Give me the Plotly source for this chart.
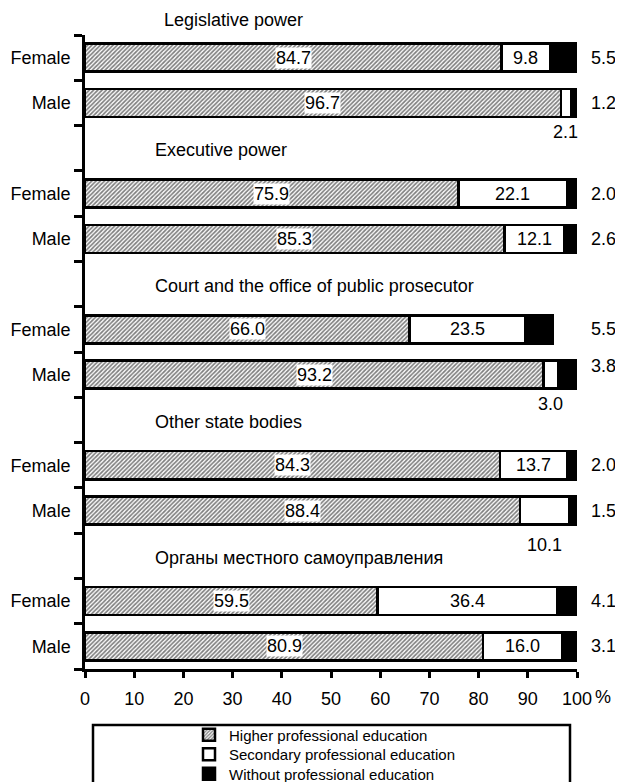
"""Education level of civil servants by branch of power and sex, stacked bars."""
import plotly.graph_objects as go

groups = ["Legislative power", "Executive power",
          "Court and the office of public prosecutor", "Other state bodies",
          "Органы местного самоуправления"]
sexes = ["Female", "Male"]

higher_f = [84.7, 75.9, 66.0, 84.3, 59.5]
higher_m = [96.7, 85.3, 93.2, 88.4, 80.9]
secondary_f = [9.8, 22.1, 23.5, 13.7, 36.4]
secondary_m = [2.1, 12.1, 3.0, 10.1, 16.0]
without_f = [5.5, 2.0, 5.5, 2.0, 4.1]
without_m = [1.2, 2.6, 3.8, 1.5, 3.1]

series_names = ["Higher professional education",
                "Secondary professional education",
                "Without professional education"]
x_ticks = [0, 10, 20, 30, 40, 50, 60, 70, 80, 90, 100]

# secondary labels written under the bar instead of inside it: (group, sex)
secondary_below = {(0, 1), (2, 1), (3, 1)}

FONT = "Liberation Sans, Arial, sans-serif"
# the page body has an 8px margin, so the figure is made 8px smaller
OFFSET = 8
WIDTH, HEIGHT = 623 - OFFSET, 782 - OFFSET
PLOT_LEFT, PLOT_RIGHT = 85, 577     # pixel columns of the plot area (page)
PLOT_TOP, PLOT_BOTTOM = 35, 669     # pixel rows of the plot area (page)
N_SLOTS = 14


def paper_y(pix):
    return (PLOT_BOTTOM - pix) / (PLOT_BOTTOM - PLOT_TOP)


def paper_x(pix):
    return (pix - PLOT_LEFT) / (PLOT_RIGHT - PLOT_LEFT)


# rows: Female, Male, blank (for title) ... slot 3*g + 0/1
y_pos, keys = [], []
higher, secondary, without = [], [], []
labels = []
for g in range(len(groups)):
    for s, (h, sec, w) in enumerate([(higher_f[g], secondary_f[g], without_f[g]),
                                     (higher_m[g], secondary_m[g], without_m[g])]):
        y_pos.append(3 * g + s)
        keys.append((g, s))
        higher.append(h)
        secondary.append(sec)
        without.append(w)
        labels.append(sexes[s])

fig = go.Figure()
bar_line = dict(color="black", width=2.5)
fig.add_trace(go.Bar(
    x=higher, y=y_pos, orientation="h", name=series_names[0], width=0.62,
    legend="legend",
    marker=dict(color="white", line=bar_line,
                pattern=dict(shape="/", size=3, solidity=0.55,
                             fgcolor="black", bgcolor="white")),
))
fig.add_trace(go.Bar(
    x=secondary, y=y_pos, orientation="h", name=series_names[1], width=0.62,
    legend="legend2",
    marker=dict(color="white", line=bar_line),
))
fig.add_trace(go.Bar(
    x=without, y=y_pos, orientation="h", name=series_names[2], width=0.62,
    legend="legend3",
    marker=dict(color="black", line=bar_line),
))

lab_font = dict(size=18, color="black", family=FONT)

# value labels
for i, y in enumerate(y_pos):
    h, sec, w = higher[i], secondary[i], without[i]
    fig.add_annotation(x=h / 2, y=y, text=f"{h:.1f}", showarrow=False,
                       bgcolor="white", borderpad=0, font=lab_font)
    if keys[i] in secondary_below:
        dy = 0.77 if keys[i][0] == 3 else 0.64
        fig.add_annotation(x=h + sec / 2, y=y + dy, text=f"{sec:.1f}",
                           showarrow=False, font=lab_font)
    else:
        fig.add_annotation(x=h + sec / 2, y=y, text=f"{sec:.1f}",
                           showarrow=False, font=lab_font)
    dy = -0.2 if keys[i] == (2, 1) else 0
    fig.add_annotation(x=paper_x(603), xref="paper", xanchor="center",
                       y=y + dy, text=f"{w:.1f}", showarrow=False, font=lab_font)

# group titles
for g, name in enumerate(groups):
    if g == 0:
        fig.add_annotation(x=15.6, y=paper_y(20), yref="paper", yanchor="middle",
                           text=name, showarrow=False, xanchor="left",
                           font=lab_font)
    else:
        fig.add_annotation(x=13.8, y=3 * g - 1 + 0.05, text=name,
                           showarrow=False, xanchor="left", font=lab_font)

# percent sign after 100
fig.add_annotation(x=paper_x(603), xref="paper", xanchor="center",
                   y=paper_y(697), yref="paper", yanchor="middle",
                   text="%", showarrow=False, font=lab_font)

# legend frame
fig.add_shape(type="rect", xref="paper", yref="paper",
              x0=paper_x(93), x1=paper_x(570), y0=paper_y(820), y1=paper_y(725),
              line=dict(color="black", width=2.5), fillcolor="white",
              layer="below")


def legend_at(pix):
    return dict(x=paper_x(189), xanchor="left", y=paper_y(pix), yanchor="middle",
                bgcolor="rgba(0,0,0,0)", borderwidth=0,
                font=dict(size=15, family=FONT, color="black"))


boundaries = [k - 0.5 for k in range(N_SLOTS + 1)]
fig.update_layout(
    barmode="stack",
    width=WIDTH, height=HEIGHT,
    margin=dict(l=PLOT_LEFT - OFFSET, r=WIDTH - (PLOT_RIGHT - OFFSET),
                t=PLOT_TOP - OFFSET, b=HEIGHT - (PLOT_BOTTOM - OFFSET),
                autoexpand=False),
    plot_bgcolor="white", paper_bgcolor="white",
    font=dict(family=FONT, size=18, color="black"),
    showlegend=True,
    legend=legend_at(735),
    legend2=legend_at(754.5),
    legend3=legend_at(774),
    xaxis=dict(range=[0, 100], tickvals=x_ticks,
               ticktext=[str(v) for v in x_ticks],
               showgrid=False, zeroline=False, showline=True,
               linecolor="black", linewidth=2.5,
               ticks="outside", ticklen=6, tickwidth=2.5, tickcolor="black",
               ticklabelstandoff=6),
    yaxis=dict(range=[N_SLOTS - 0.5, -0.5], tickvals=y_pos, ticktext=labels,
               showgrid=False, zeroline=False, showline=True,
               linecolor="black", linewidth=2.5,
               ticks="", ticklabelstandoff=8,
               minor=dict(tickvals=boundaries, ticks="outside", ticklen=8,
                          tickwidth=2.5, tickcolor="black", showgrid=False)),
)

fig.write_html("out.html")
